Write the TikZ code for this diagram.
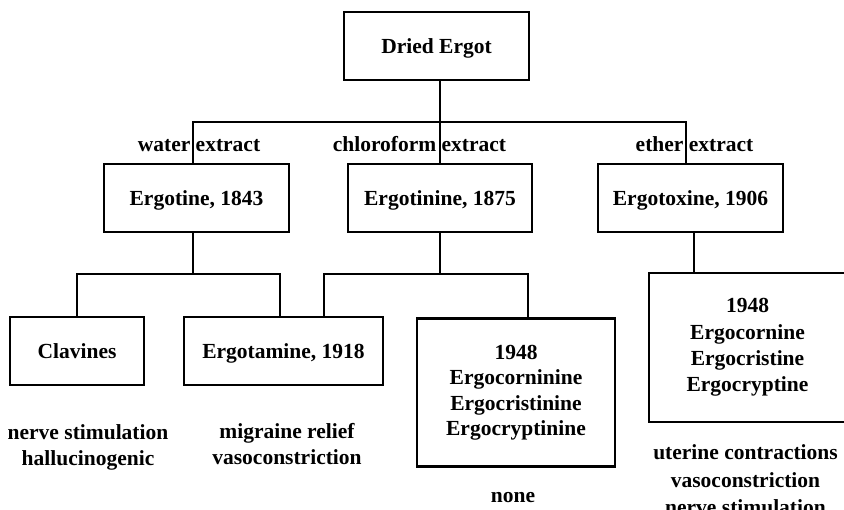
\documentclass[tikz,border=0pt]{standalone}
\usepackage{fontspec}
\setmainfont{Liberation Serif}
\begin{document}
\begin{tikzpicture}[x=1pt,y=-1pt,
  txt/.style={font=\fontsize{21.5}{25.5}\selectfont\bfseries, inner sep=0pt},
  lbl/.style={txt, align=center},
  box/.style={txt, draw, line width=2.6pt, text height=14.2pt, text depth=0pt},
  mbox/.style={txt, draw, line width=2.6pt, align=center},
  conn/.style={line width=2.6pt}]
\useasboundingbox (0,0) rectangle (844,510);

% boxes
\node[box, minimum width=185pt, minimum height=68pt] (dried) at (436.5,46) {Dried Ergot};
\node[box, minimum width=185pt, minimum height=68pt] (ergotine) at (196.5,198) {Ergotine, 1843};
\node[box, minimum width=184pt, minimum height=68pt] (ergotinine) at (440,198) {Ergotinine, 1875};
\node[box, minimum width=185pt, minimum height=68pt] (ergotoxine) at (690.5,198) {Ergotoxine, 1906};
\node[box, minimum width=134pt, minimum height=68pt] (clavines) at (77,351) {Clavines};
\node[box, minimum width=199pt, minimum height=68pt] (ergotamine) at (283.5,351) {Ergotamine, 1918};
\node[mbox, minimum width=198pt, minimum height=148pt,
  font=\fontsize{21.5}{25.5}\selectfont\bfseries] (dimers) at (516,392.5)
  {1948\\Ergocorninine\\Ergocristinine\\Ergocryptinine};
\node[mbox, minimum width=197pt, minimum height=149pt,
  font=\fontsize{21.5}{26.3}\selectfont\bfseries] (toxpart) at (747.5,347.5)
  {1948\\Ergocornine\\Ergocristine\\Ergocryptine};

% extract labels
\node[txt, anchor=base] (lwater) at (199,152) {water extract};
\node[txt, anchor=base] (lchloro) at (419.5,152) {chloroform extract};
\node[txt, anchor=base] (lether) at (694.5,152) {ether extract};

% effects
\node[lbl, font=\fontsize{21.5}{26}\selectfont\bfseries] (effclav) at (88,447.5) {nerve stimulation\\hallucinogenic};
\node[lbl, font=\fontsize{21.5}{26}\selectfont\bfseries] (effamine) at (287,443.6) {migraine relief\\vasoconstriction};
\node[txt, anchor=base] (effnone) at (513,503) {none};
\node[lbl, font=\fontsize{21.5}{27.7}\selectfont\bfseries] (efftox) at (745.5,479.8) {uterine contractions\\vasoconstriction\\nerve stimulation};

% junction coordinates
\coordinate (j0) at (440,122);
\coordinate (jw) at (193,122);
\coordinate (je) at (686,122);
\coordinate (a1) at (77,274);
\coordinate (a2) at (280,274);
\coordinate (k1) at (193,274);
\coordinate (b1) at (324,274);
\coordinate (b2) at (528,274);
\coordinate (k2) at (440,274);
\coordinate (t1) at (694,274);

% connectors
\draw[conn] (dried.south -| j0) -- (j0 |- ergotinine.north);
\draw[conn] (jw |- ergotine.north) -- (jw) -- (je) -- (je |- ergotoxine.north);

\draw[conn] (ergotine.south -| k1) -- (k1);
\draw[conn] (clavines.north) -- (a1) -- (a2) -- (a2 |- ergotamine.north);

\draw[conn] (ergotinine.south -| k2) -- (k2);
\draw[conn] (b1 |- ergotamine.north) -- (b1) -- (b2) -- (b2 |- dimers.north);

\draw[conn] (ergotoxine.south -| t1) -- (t1 |- toxpart.north);
\end{tikzpicture}
\end{document}
